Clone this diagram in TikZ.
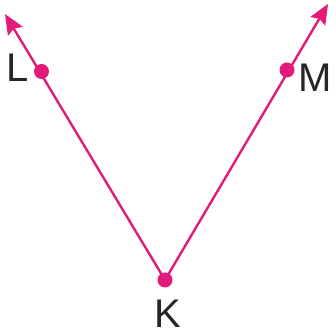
\documentclass[tikz,border=0pt]{standalone}
\usepackage{fontspec}
\setmainfont{Liberation Sans}
\usetikzlibrary{arrows.meta}
\definecolor{mag}{RGB}{226,26,122}
\begin{document}
\begin{tikzpicture}[x=1pt,y=1pt,
  ray/.style={draw=mag,line width=2.4pt,-{Stealth[length=20pt,width=17pt,inset=3pt]}},
  pt/.style={circle,fill=mag,inner sep=0pt,minimum size=15pt},
  lab/.style={font=\fontsize{40}{40}\selectfont,inner sep=0pt,text=black!85}]
\useasboundingbox (0,0) rectangle (335,336);
\node[pt] (K) at (165,56) {};
\node[pt] (L) at (41.5,264.5) {};
\node[pt] (M) at (287,266) {};
\coordinate (TL) at (5,322);
\coordinate (TR) at (328,332);
\draw[ray] (K.center) -- (TL);
\draw[ray] (K.center) -- (TR);
\node[lab] (Ll) at (17.5,268.5) {L};
\node[lab] (Ml) at (315,258.5) {M};
\node[lab] (Kl) at (168,22) {K};
\end{tikzpicture}
\end{document}
